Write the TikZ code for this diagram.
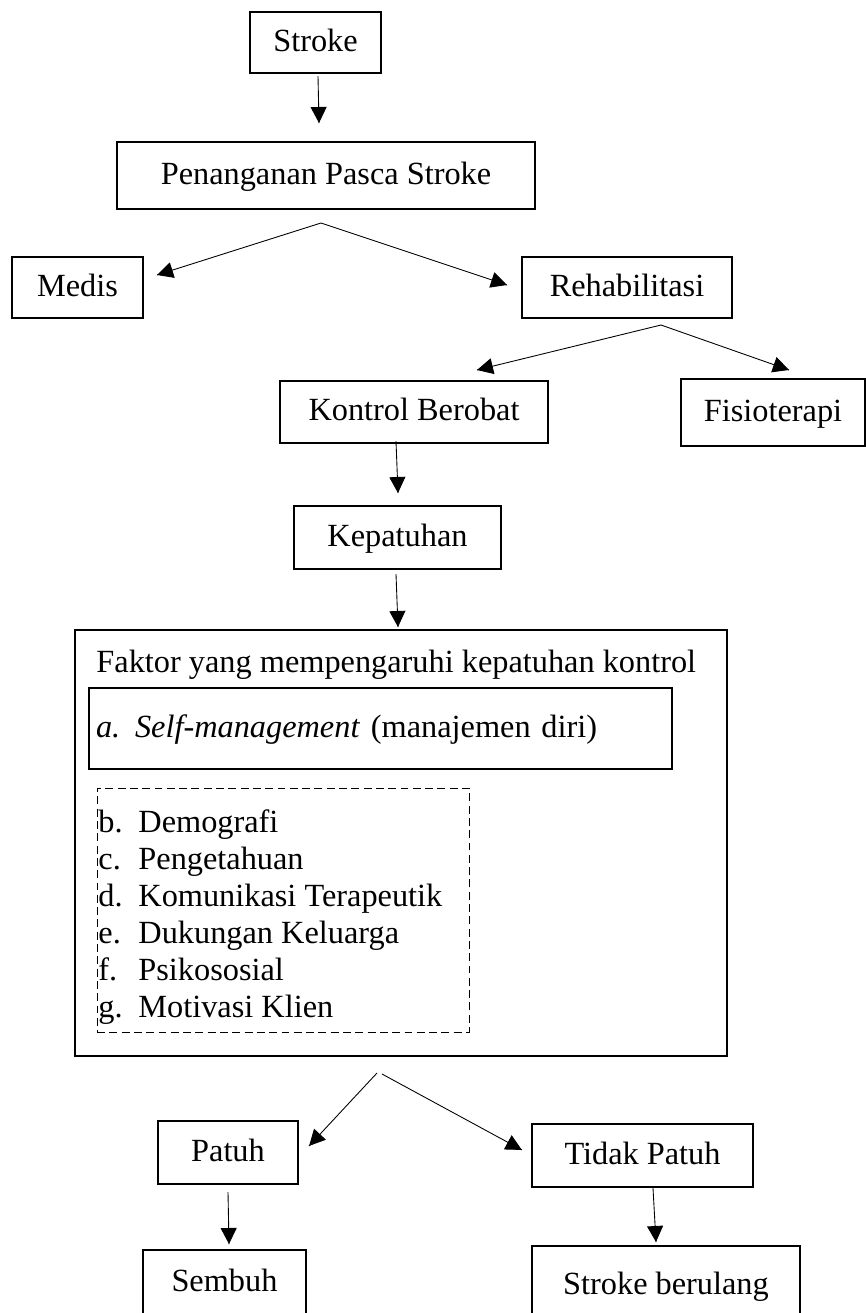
\documentclass[tikz,border=0pt]{standalone}
\usepackage{fontspec}
\setmainfont{Liberation Serif}
\usetikzlibrary{arrows.meta}
\usetikzlibrary{decorations.markings}
\tikzset{->/.style = {decoration={markings,
                                  mark=at position 1 with {\arrow{Triangle[length=0.32cm, width=0.32cm]}}},
                      postaction={decorate}}}
\tikzset{kotak/.style = {draw, line width=1pt, inner sep=0pt, text height=13pt, text depth=3pt},
         teks/.style = {inner sep=0pt, anchor=base west}}

\begin{document}
\begin{tikzpicture}[x=0.02cm, y=-0.02cm, line width=0.5pt,
                    font=\fontsize{18.4}{21}\selectfont]
    \useasboundingbox (0, 0) rectangle (866, 1313);
    % boxes
    \node [kotak, minimum width=2.62cm, minimum height=1.22cm] (stroke) at (315.5, 42.5) {Stroke};
    \node [kotak, minimum width=8.36cm, minimum height=1.34cm] (pasca) at (326, 175.5) {Penanganan Pasca Stroke};
    \node [kotak, minimum width=2.62cm, minimum height=1.22cm] (medis) at (77.5, 287.5) {Medis};
    \node [kotak, minimum width=4.2cm, minimum height=1.22cm] (rehab) at (627, 287.5) {Rehabilitasi};
    \node [kotak, minimum width=5.36cm, minimum height=1.24cm] (kontrol) at (414, 412) {Kontrol Berobat};
    \node [kotak, minimum width=3.68cm, minimum height=1.34cm] (fisio) at (773, 412.5) {Fisioterapi};
    \node [kotak, minimum width=4.14cm, minimum height=1.26cm] (kepatuhan) at (397.5, 537.5) {Kepatuhan};
    \node [kotak, minimum width=13.04cm, minimum height=8.52cm] (faktor) at (401, 843) {};
    \node [teks] (judul) at (96, 672) {Faktor yang mempengaruhi kepatuhan kontrol};
    \node [kotak, inner xsep=0.14cm, text width=11.38cm, minimum height=1.62cm, align=left] (self) at (380.5, 728.5)
        {\makebox[0.78cm][l]{\itshape a.}\textit{Self-management} (manajemen diri)};
    \node [draw, dashed, dash pattern=on 4.5pt off 2.5pt, minimum width=7.44cm, minimum height=4.88cm] (daftar) at (283, 910) {};
    \foreach \h/\isi [count=\i] in {b/Demografi, c/Pengetahuan, d/Komunikasi Terapeutik,
                                    e/Dukungan Keluarga, f/Psikososial, g/Motivasi Klien}
        \node [teks] (item\i) at (98, {795 + 37*\i}) {\makebox[0.8cm][l]{\h.}\isi};
    \node [kotak, minimum width=2.8cm, minimum height=1.26cm] (patuh) at (228, 1152.5) {Patuh};
    \node [kotak, minimum width=4.42cm, minimum height=1.26cm] (tidak) at (642.5, 1155.5) {Tidak Patuh};
    \node [kotak, minimum width=3.26cm, minimum height=1.32cm] (sembuh) at (224.5, 1283) {Sembuh};
    \node [kotak, minimum width=5.36cm, minimum height=1.6cm] (ulang) at (666, 1286) {Stroke berulang};
    % arrow ends
    \coordinate (s1) at (318, 76);
    \coordinate (s2) at (319, 123);
    \coordinate (p0) at (321, 223);
    \coordinate (p1) at (157, 275);
    \coordinate (p2) at (507, 285);
    \coordinate (r0) at (661, 325);
    \coordinate (r1) at (477, 370);
    \coordinate (r2) at (789, 370);
    \coordinate (k1) at (396, 441);
    \coordinate (k2) at (398, 493);
    \coordinate (k3) at (396, 574);
    \coordinate (k4) at (398, 627);
    \coordinate (f1) at (377, 1073);
    \coordinate (f2) at (382, 1074);
    \coordinate (f3) at (309, 1146);
    \coordinate (f4) at (522, 1150);
    \coordinate (a1) at (228, 1192);
    \coordinate (a2) at (229, 1244);
    \coordinate (b1) at (653, 1188);
    \coordinate (b2) at (656, 1242);
    % connectors
    \draw [->] (s1) -- (s2);
    \draw [->] (p0) -- (p1);
    \draw [->] (p0) -- (p2);
    \draw [->] (r0) -- (r1);
    \draw [->] (r0) -- (r2);
    \draw [->] (k1) -- (k2);
    \draw [->] (k3) -- (k4);
    \draw [->] (f1) -- (f3);
    \draw [->] (f2) -- (f4);
    \draw [->] (a1) -- (a2);
    \draw [->] (b1) -- (b2);
  \end{tikzpicture}
\end{document}
